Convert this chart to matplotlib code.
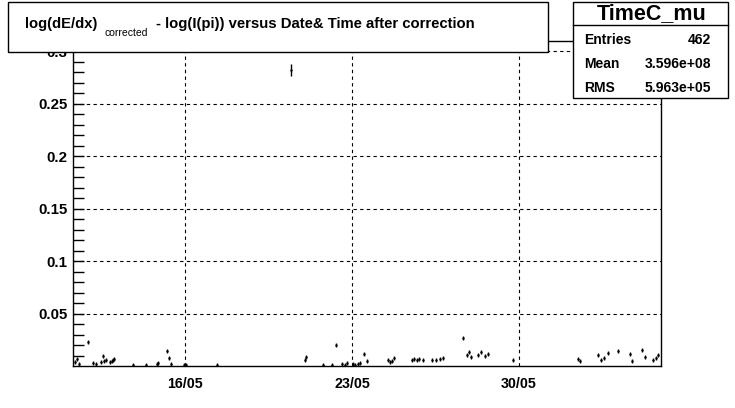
import datetime as dt
import numpy as np
import matplotlib
matplotlib.use('Agg')
import matplotlib.pyplot as plt
import matplotlib.dates as mdates
from matplotlib.patches import Rectangle
from matplotlib.lines import Line2D

plt.rcParams['font.family'] = ['Liberation Sans', 'DejaVu Sans']

# time as day of May 2006 (fractional), value and its error
day = [11.39, 11.47, 11.56, 11.93, 12.14, 12.27, 12.48, 12.56, 12.60, 12.69,
       12.86, 12.94, 12.98, 13.02, 13.82, 14.37, 14.83, 14.87, 15.25, 15.33,
       15.41, 15.96, 16.04, 17.34, 20.44, 21.03, 21.07, 21.78, 22.16, 22.33,
       22.58, 22.71, 22.79, 23.04, 23.13, 23.25, 23.34, 23.50, 23.63, 24.51,
       24.59, 24.68, 24.76, 25.52, 25.60, 25.72, 25.81, 25.98, 26.35, 26.52,
       26.69, 26.81, 27.65, 27.82, 27.90, 27.99, 28.28, 28.41, 28.57, 28.70,
       29.75, 32.47, 32.56, 33.31, 33.44, 33.56, 33.73, 34.15, 34.65, 34.74,
       35.16, 35.28, 35.62, 35.74, 35.83]
val = [0.0038, 0.0067, 0.0019, 0.0229, 0.0029, 0.0019, 0.0038, 0.0095, 0.0048, 0.0057,
       0.0038, 0.0048, 0.0057, 0.0067, 0.0010, 0.0010, 0.0019, 0.0029, 0.0143, 0.0076,
       0.0019, 0.0010, 0.0010, 0.0010, 0.2824, 0.0057, 0.0086, 0.0010, 0.0010, 0.0200,
       0.0019, 0.0010, 0.0029, 0.0019, 0.0010, 0.0019, 0.0029, 0.0114, 0.0048, 0.0057,
       0.0038, 0.0048, 0.0076, 0.0057, 0.0067, 0.0057, 0.0067, 0.0057, 0.0057, 0.0057,
       0.0067, 0.0076, 0.0267, 0.0105, 0.0134, 0.0086, 0.0105, 0.0134, 0.0095, 0.0114,
       0.0057, 0.0067, 0.0048, 0.0105, 0.0057, 0.0076, 0.0124, 0.0143, 0.0114, 0.0048,
       0.0153, 0.0086, 0.0057, 0.0076, 0.0105]
err = [0.002] * 24 + [0.006] + [0.002] * 50

date_ticks = [dt.datetime(2006, 5, 16), dt.datetime(2006, 5, 23), dt.datetime(2006, 5, 30)]
x_range = (11.30, 35.95)
y_range = (0.0, 0.31)
y_ticks = [0.05, 0.1, 0.15, 0.2, 0.25, 0.3]
y_labels = ['0.05', '0.1', '0.15', '0.2', '0.25', '0.3']

title_main = 'log(dE/dx)'
title_sub = 'corrected'
title_rest = '- log(I(pi)) versus Date& Time after correction'
stats_name = 'TimeC_mu'
stats_rows = [('Entries', '462'), ('Mean', '3.596e+08'), ('RMS', '5.963e+05')]

W, H = 735, 408
fx = lambda px: px / W
fy = lambda py: 1 - py / H

base = mdates.date2num(dt.datetime(2006, 5, 1)) - 1
x = base + np.array(day)

fig = plt.figure(figsize=(W / 100, H / 100), dpi=100)
ax = fig.add_axes([fx(73), fy(366), (661 - 73) / W, (366 - 41) / H])

ax.errorbar(x, val, yerr=err, fmt='.', color='black', markersize=1.5,
            elinewidth=1, capsize=0, zorder=3)

ax.set_xlim(base + x_range[0], base + x_range[1])
ax.set_ylim(*y_range)
ax.set_xticks(mdates.date2num(date_ticks))
ax.xaxis.set_major_formatter(mdates.DateFormatter('%d/%m'))
ax.set_yticks(y_ticks)
ax.set_yticklabels(y_labels)
ax.set_yticks(np.arange(0.01, 0.311, 0.01), minor=True)

ax.tick_params(axis='y', which='both', direction='in', length=8, width=1,
               labelsize=10.8, pad=4)
ax.tick_params(axis='x', which='both', length=0, labelsize=10.3, pad=8)
for lab in ax.get_xticklabels() + ax.get_yticklabels():
    lab.set_fontweight('bold')

ax.grid(True, color='black', linestyle=(0, (3, 3)), linewidth=0.8)
ax.set_axisbelow(True)
for sp in ax.spines.values():
    sp.set_linewidth(1)
    sp.set_color('black')

# title box
fig.add_artist(Rectangle((fx(8), fy(52)), (548 - 8) / W, 50 / H, transform=fig.transFigure,
                         facecolor='white', edgecolor='black', linewidth=1, zorder=5))
fig.text(fx(25), fy(24), title_main, fontsize=10.6, fontweight='bold', va='center', ha='left', zorder=6)
fig.text(fx(104), fy(33), title_sub, fontsize=7.5, va='center', ha='left', zorder=6)
fig.text(fx(156), fy(24), title_rest, fontsize=10.7, fontweight='bold', va='center', ha='left', zorder=6)

# stats box
fig.add_artist(Rectangle((fx(573), fy(98)), (728 - 573) / W, 96 / H, transform=fig.transFigure,
                         facecolor='white', edgecolor='black', linewidth=1, zorder=5))
fig.add_artist(Line2D([fx(573), fx(728)], [fy(25), fy(25)], transform=fig.transFigure,
                      color='black', linewidth=1, zorder=6))
fig.text(fx(652), fy(14), stats_name, fontsize=15.5, fontweight='bold', ha='center', va='center', zorder=6)
for i, (name, v) in enumerate(stats_rows):
    yy = fy(40 + 24 * i)
    fig.text(fx(584), yy, name, fontsize=10, fontweight='bold', ha='left', va='center', zorder=6)
    fig.text(fx(711), yy, v, fontsize=10, fontweight='bold', ha='right', va='center', zorder=6)

fig.savefig('out.png', dpi=100)
